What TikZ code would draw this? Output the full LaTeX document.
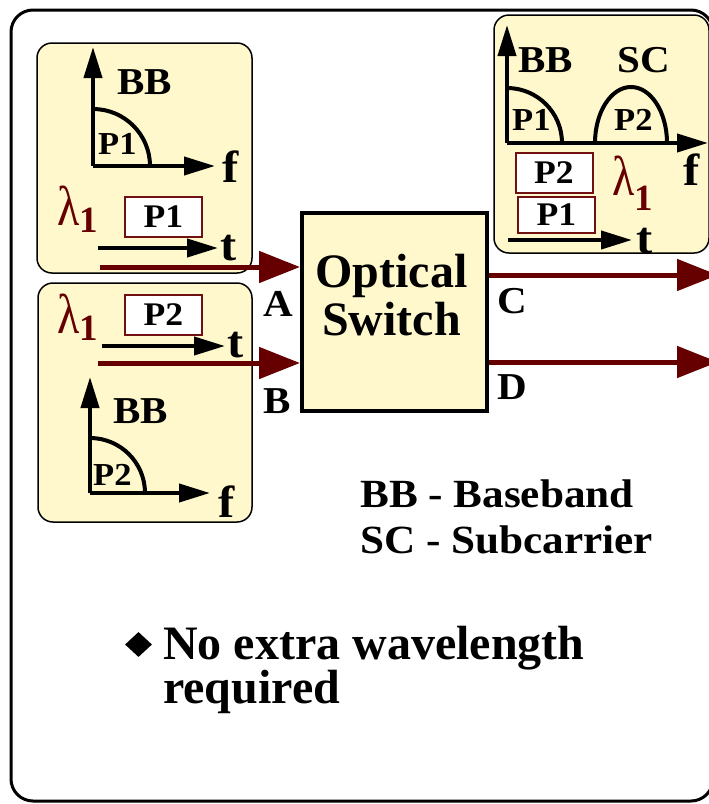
\documentclass[tikz,border=0pt]{standalone}
\usepackage{fontspec}
\setmainfont{Liberation Serif}
\newfontfamily\widefont[FakeStretch=1.08]{Liberation Serif}
\usetikzlibrary{arrows.meta,shapes.geometric}
\definecolor{paper}{HTML}{FFF8CC}
\definecolor{fiberred}{HTML}{660000}
\definecolor{pktred}{HTML}{701010}
\tikzset{
  frame/.style={draw=black, line width=3pt, rounded corners=22pt},
  panel/.style={draw=black, line width=1.5pt, fill=paper, rounded corners=15pt},
  switchbox/.style={draw=black, line width=4pt, fill=paper, minimum width=185pt, minimum height=198pt, inner sep=0pt},
  axis/.style={-{Triangle[length=31pt,width=18pt]}, line width=4pt},
  spectrum/.style={line width=4pt},
  pktbox/.style={draw=pktred, line width=2pt, fill=white, minimum width=77pt, minimum height=40pt, inner sep=0pt, font=\widefont\bfseries\fontsize{33}{33}\selectfont},
  fiber/.style={-{Triangle[length=41pt,width=31pt]}, draw=fiberred, line width=5pt},
  tag/.style={anchor=base west, inner sep=0pt, font=\widefont\bfseries\fontsize{38}{38}\selectfont},
  ptag/.style={anchor=base west, inner sep=0pt, font=\widefont\bfseries\fontsize{32}{32}\selectfont},
  axtag/.style={anchor=base west, inner sep=0pt, font=\widefont\bfseries\fontsize{45}{45}\selectfont},
  port/.style={anchor=base west, inner sep=0pt, font=\widefont\bfseries\fontsize{38}{38}\selectfont},
  legend/.style={anchor=base west, inner sep=0pt, font=\widefont\bfseries\fontsize{40}{40}\selectfont},
  note/.style={anchor=base west, inner sep=0pt, font=\bfseries\fontsize{48}{48}\selectfont},
  lam/.style={anchor=base west, inner sep=0pt, text=fiberred},
}
\newcommand{\lamone}[1][7pt]{\scalebox{1}[1.22]{\mdseries\fontsize{46}{46}\selectfont λ}\raisebox{-#1}{\bfseries\fontsize{37}{37}\selectfont 1}}

\begin{document}
\begin{tikzpicture}[x=1pt, y=-1pt, font=\bfseries]
\useasboundingbox (0,0) rectangle (709,804);
\draw[frame] (11,10) rectangle (713,801);

% input A
\draw[panel] (37,43) rectangle (252,273);
\draw[axis] (93,166) -- (93,47);
\draw[axis] (93,166) -- (215,166);
\draw[spectrum] (150,166) arc[start angle=0, end angle=-90, radius=57];
\node[tag] (bba) at (117,94) {BB};
\node[ptag] (spa) at (98,154) {P1};
\node[axtag] (fa) at (222,182) {f};
\node[lam] (lama) at (57,225) {\lamone};
\node[pktbox] (pka) at (163.5,217) {P1};
\draw[axis] (98,248) -- (218,248);
\node[axtag] (ta) at (220,260) {t};

% input B
\draw[panel] (38,283) rectangle (252,522);
\node[lam] (lamb) at (57,333) {\lamone};
\node[pktbox] (pkb) at (163.5,315) {P2};
\draw[axis] (102,346) -- (225,346);
\node[axtag] (tb) at (227,357) {t};
\draw[axis] (90,493) -- (90,377);
\draw[axis] (90,493) -- (210,493);
\draw[spectrum] (145,493) arc[start angle=0, end angle=-90, radius=55];
\node[tag] (bbb) at (113,423) {BB};
\node[ptag] (spb) at (93,485) {P2};
\node[axtag] (fb) at (218,517) {f};

% output C
\draw[panel] (494,15) rectangle (709,253);
\draw[axis] (507,143) -- (507,25);
\draw[axis] (507,143) -- (708,143);
\draw[spectrum] (562,143) arc[start angle=0, end angle=-90, radius=55];
\draw[spectrum] (595,143) arc[start angle=180, end angle=360, x radius=36, y radius=56];
\node[tag] (bbc) at (518,72) {BB};
\node[tag] (scc) at (617,72) {SC};
\node[ptag] (spc1) at (512,130) {P1};
\node[ptag] (spc2) at (614,130) {P2};
\node[axtag] (fc) at (683,185) {f};
\node[pktbox] (pkc2) at (554,173) {P2};
\node[pktbox, minimum height=36pt] (pkc1) at (556.5,215) {P1};
\node[lam] (lamc) at (612,195) {\lamone[15pt]};
\draw[axis] (508,240) -- (632,240);
\node[axtag] (tc) at (636,253) {t};

% switch
\node[switchbox] (sw) at (394.5,312) {};
\node[font=\bfseries\fontsize{48}{48}\selectfont, align=center, inner sep=0pt] (swtxt) at ([xshift=-3pt,yshift=17pt]sw.center) {Optical\\Switch};

\coordinate (ina) at (100,267);
\coordinate (inb) at (98,363);
\coordinate (outc) at (718,275);
\coordinate (outd) at (718,362);
\draw[fiber] (ina) -- (ina -| sw.west);
\draw[fiber] (inb) -- (inb -| sw.west);
\draw[fiber] (sw.east |- outc) -- (outc);
\draw[fiber] (sw.east |- outd) -- (outd);
\node[port] (pa) at (263,316) {A};
\node[port] (pb) at (263,413) {B};
\node[port] (pc) at (497,313) {C};
\node[port] (pd) at (497,399) {D};

% legend
\node[legend] (lgbb) at (360,507) {BB - Baseband};
\node[legend] (lgsc) at (360,553) {SC - Subcarrier};

\node[diamond, fill=black, minimum width=27pt, minimum height=25pt, inner sep=0pt] (blt) at (138.5,644.5) {};
\node[note] (nx1) at (163,659) {No extra wavelength};
\node[note] (nx2) at (163,703) {required};
\end{tikzpicture}
\end{document}
